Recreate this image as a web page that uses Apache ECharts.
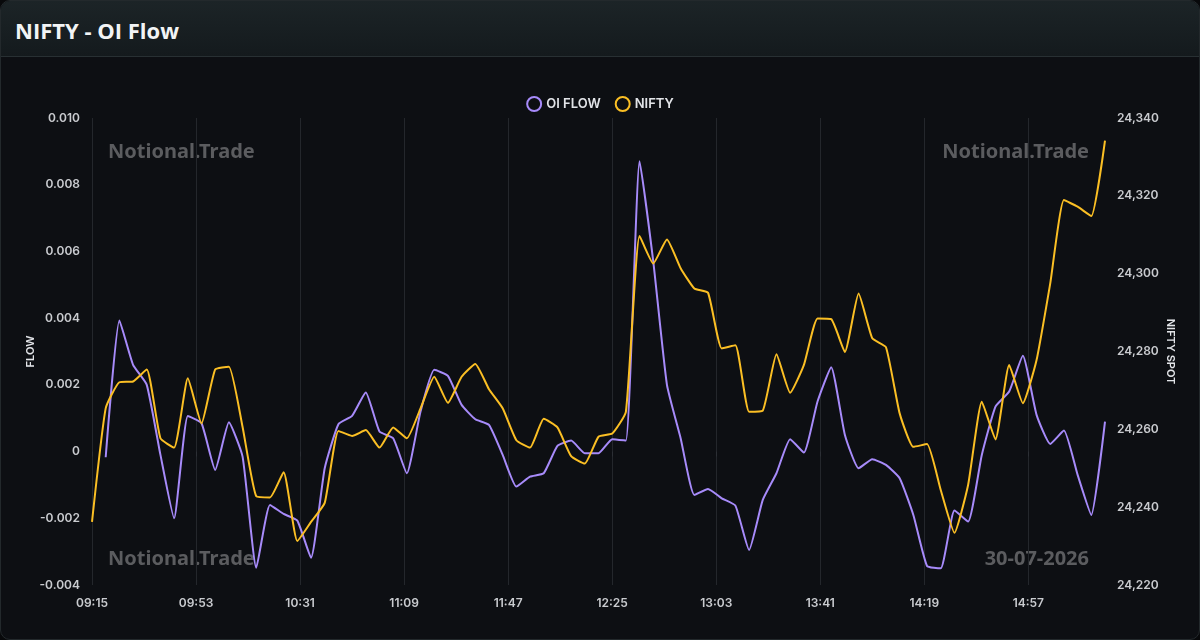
<!DOCTYPE html>
<html>
<head>
<meta charset="utf-8">
<title>NIFTY - OI Flow</title>
<script src="https://cdn.jsdelivr.net/npm/echarts@6/dist/echarts.min.js"></script>
<style>
  html, body { margin: 0; padding: 0; width: 1200px; height: 640px; background: #08090b; overflow: hidden; }
  .card { position: absolute; left: 0; top: 0; width: 1198px; height: 638px; border: 1px solid #23292c; border-radius: 10px; background: #0d0f13; overflow: hidden; }
  .card-head { height: 56px; box-sizing: border-box; border-bottom: 1px solid #283033; background: linear-gradient(#1c2427, #141a1d); }
  .card-head h1 { margin: 0; padding: 14px 0 0 14px; font: bold 22px "Open Sans", "Noto Sans", sans-serif; color: #f2f4f5; }
  #container { position: absolute; left: 0; top: 0; width: 1200px; height: 640px; }
</style>
</head>
<body>
<div class="card"><div class="card-head"><h1>NIFTY - OI Flow</h1></div></div>
<div id="container"></div>
<script>
// readings every 5 minutes from 09:15
var startTime = '09:15';
var oiFlow = [null, -0.00017, 0.00393, 0.0026, 0.0020, -0.0001, -0.0020, 0.00107, 0.00085, -0.00055,
  0.00088, -0.00015, -0.00348, -0.0016, -0.00187, -0.00207, -0.00318, -0.0005, 0.00082, 0.00107,
  0.00177, 0.0006, 0.0004, -0.00065, 0.0012, 0.00245, 0.00227, 0.0014, 0.00097, 0.0008,
  -0.0001, -0.00105, -0.00075, -0.00065, 0.00017, 0.00033, -0.00005, -0.00005, 0.00037, 0.00033,
  0.0087, 0.0057, 0.0020, 0.0004, -0.0013, -0.00112, -0.0014, -0.00162, -0.00295, -0.00145,
  -0.00065, 0.00037, -0.00003, 0.0015, 0.00253, 0.0005, -0.0005, -0.00023, -0.0004, -0.0008,
  -0.0019, -0.00343, -0.0035, -0.00177, -0.0021, -0.0001, 0.00135, 0.0018, 0.00287, 0.0011,
  0.00023, 0.00063, -0.0007, -0.0019, 0.0009];
var niftySpot = [24236.2, 24265.4, 24272.1, 24272.3, 24275.4, 24257.7, 24255.3, 24273.1, 24261.5, 24275.4,
  24276.1, 24260.6, 24242.8, 24242.5, 24249.0, 24231.3, 24236.2, 24241.1, 24259.6, 24258.3,
  24259.8, 24255.3, 24260.5, 24257.7, 24265.4, 24273.5, 24266.8, 24273.5, 24276.8, 24270.3,
  24265.4, 24257.2, 24255.3, 24262.7, 24260.5, 24253.1, 24251.2, 24258.1, 24258.9, 24264.5,
  24309.7, 24302.6, 24308.8, 24301.4, 24296.2, 24295.1, 24280.8, 24281.6, 24264.5, 24264.8,
  24279.3, 24269.4, 24276.5, 24288.5, 24288.3, 24279.9, 24294.9, 24283.4, 24281.1, 24264.1,
  24255.5, 24256.2, 24244.4, 24233.4, 24245.7, 24267.1, 24257.4, 24276.5, 24266.7, 24277.8,
  24297.5, 24318.9, 24317.2, 24314.8, 24334.2];
var watermarks = ['Notional.Trade', 'Notional.Trade', 'Notional.Trade', '30-07-2026'];

var purple = '#a78bfa', amber = '#fbbf24';

function fmt(mins) {
  var h = Math.floor(mins / 60), m = mins % 60;
  return (h < 10 ? '0' : '') + h + ':' + (m < 10 ? '0' : '') + m;
}
var t0 = parseInt(startTime.slice(0, 2)) * 60 + parseInt(startTime.slice(3));
var minutes = [];
for (var k = 0; k <= (niftySpot.length - 1) * 5; k++) minutes.push(fmt(t0 + k));
var pointTimes = niftySpot.map(function (v, i) { return fmt(t0 + i * 5); });

var dom = document.getElementById('container');
var myChart = echarts.init(dom, null, { renderer: 'canvas' });

var labelFont = { color: '#c9cbcf', fontSize: 12, fontWeight: 600, fontFamily: 'Inter, Roboto, sans-serif' };
var nameFont = { color: '#e2e4e8', fontSize: 11, fontWeight: 600, fontFamily: 'Inter, Roboto, sans-serif' };
var wmStyle = { fill: '#5b5c5f', font: 'bold 20px "Noto Sans", "Open Sans", sans-serif' };

var option = {
  backgroundColor: 'transparent',
  animation: false,
  legend: {
    top: 91,
    left: 'center',
    icon: 'circle',
    itemWidth: 14,
    itemHeight: 14,
    itemGap: 14,
    textStyle: { color: '#e2e4e8', fontSize: 13, fontWeight: 600, fontFamily: 'Inter, Roboto, sans-serif' },
    data: [
      { name: 'OI FLOW', itemStyle: { color: 'rgba(0,0,0,0)', borderColor: purple, borderWidth: 2 } },
      { name: 'NIFTY', itemStyle: { color: 'rgba(0,0,0,0)', borderColor: amber, borderWidth: 2 } }
    ]
  },
  grid: { left: 92, right: 95, top: 118, bottom: 55 },
  xAxis: {
    type: 'category',
    boundaryGap: false,
    data: minutes,
    axisLine: { show: false },
    axisTick: { show: true, interval: 37, length: 5, lineStyle: { color: '#2c2f35' } },
    axisLabel: Object.assign({ interval: 37, margin: 12 }, labelFont),
    splitLine: { show: true, interval: 37, lineStyle: { color: '#24272c', width: 1 } }
  },
  yAxis: [{
    type: 'value',
    name: 'FLOW',
    nameLocation: 'middle',
    nameGap: 56,
    nameMoveOverlap: false,
    nameTextStyle: nameFont,
    min: -0.004,
    max: 0.010,
    interval: 0.002,
    axisLine: { show: false },
    axisTick: { show: false },
    splitLine: { show: false },
    axisLabel: Object.assign({
      margin: 12,
      formatter: function (v) { return Math.abs(v) < 1e-9 ? '0' : v.toFixed(3); }
    }, labelFont)
  }, {
    type: 'value',
    name: 'NIFTY SPOT',
    nameLocation: 'middle',
    nameGap: 60,
    nameMoveOverlap: false,
    nameRotate: -90,
    nameTextStyle: nameFont,
    min: 24220,
    max: 24340,
    interval: 20,
    position: 'right',
    axisLine: { show: false },
    axisTick: { show: false },
    splitLine: { show: false },
    axisLabel: Object.assign({ margin: 12 }, labelFont)
  }],
  series: [{
    name: 'OI FLOW',
    type: 'line',
    yAxisIndex: 0,
    smooth: 0.15,
    showSymbol: false,
    color: purple,
    lineStyle: { width: 2, color: purple },
    data: pointTimes.map(function (t, i) { return [t, oiFlow[i]]; })
  }, {
    name: 'NIFTY',
    type: 'line',
    yAxisIndex: 1,
    smooth: 0.15,
    showSymbol: false,
    color: amber,
    lineStyle: { width: 2, color: amber },
    data: pointTimes.map(function (t, i) { return [t, niftySpot[i]]; })
  }],
  graphic: [
    { type: 'text', left: 108, top: 142, silent: true, style: Object.assign({ text: watermarks[0] }, wmStyle) },
    { type: 'text', right: 111, top: 142, silent: true, style: Object.assign({ text: watermarks[1] }, wmStyle) },
    { type: 'text', left: 108, top: 549, silent: true, style: Object.assign({ text: watermarks[2] }, wmStyle) },
    { type: 'text', right: 111, top: 549, silent: true, style: Object.assign({ text: watermarks[3] }, wmStyle) }
  ]
};

if (option && typeof option === 'object') {
  myChart.setOption(option);
}

window.addEventListener('resize', myChart.resize);
</script>
</body>
</html>
